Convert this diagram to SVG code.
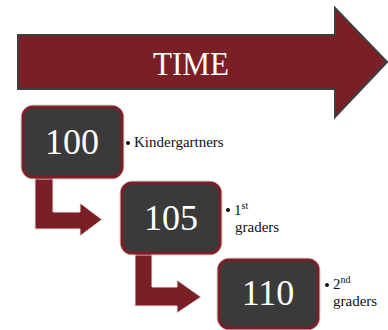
<svg xmlns="http://www.w3.org/2000/svg" width="388" height="330" viewBox="0 0 388 330">
<style>
.arrow{fill:#7b1f26;stroke:#e8e4e4;stroke-width:1}
.box{fill:#3b3a3a;stroke:#7b1f26;stroke-width:3}
.halo{fill:none;stroke:#d8cfd0;stroke-width:1}
.num{font-size:36px;fill:#ffffff;text-anchor:middle}
.lbl{font-size:15px;fill:#111111}
.sup{font-size:10px}
</style>
<rect width="388" height="330" fill="#ffffff"/>
<g font-family="Liberation Serif, serif">
<g id="time-arrow">
<polygon points="18,35 335,35 335,8 387,62 335,117 335,89 18,89" fill="#7b1f26" stroke="#3e3e3e" stroke-width="2"/>
<text x="191" y="75" font-size="33" fill="#ffffff" text-anchor="middle" textLength="76" lengthAdjust="spacingAndGlyphs">TIME</text>
</g>
<g id="connectors">
<polygon class="arrow" points="35,176 53,176 53,212 80,212 80,203 102,219.5 80,236 80,229 35,229"/>
<polygon class="arrow" points="135,252 152,252 152,287 177,287 177,280 201,297 177,313 177,306 135,306"/>
</g>
<g id="node-100">
<rect class="halo" x="21" y="105" width="103" height="74" rx="12"/>
<rect class="box" x="23" y="107" width="99" height="70" rx="10"/>
<text class="num" x="72" y="154">100</text>
<circle cx="128" cy="143" r="2" fill="#111"/>
<text class="lbl" x="134" y="147">Kindergartners</text>
</g>
<g id="node-105">
<rect class="halo" x="120" y="181" width="102" height="74" rx="12"/>
<rect class="box" x="122" y="183" width="98" height="70" rx="10"/>
<text class="num" x="171" y="230">105</text>
<circle cx="228" cy="210" r="2" fill="#111"/>
<text class="lbl" x="234" y="215">1<tspan class="sup" dy="-6">st</tspan></text>
<text class="lbl" x="235" y="232">graders</text>
</g>
<g id="node-110">
<rect class="halo" x="217" y="258" width="103" height="72" rx="12"/>
<rect class="box" x="219" y="260" width="99" height="68" rx="10"/>
<text class="num" x="268" y="305">110</text>
<circle cx="327" cy="285" r="2" fill="#111"/>
<text class="lbl" x="333" y="289">2<tspan class="sup" dy="-6">nd</tspan></text>
<text class="lbl" x="333" y="306">graders</text>
</g>
</g>
</svg>
